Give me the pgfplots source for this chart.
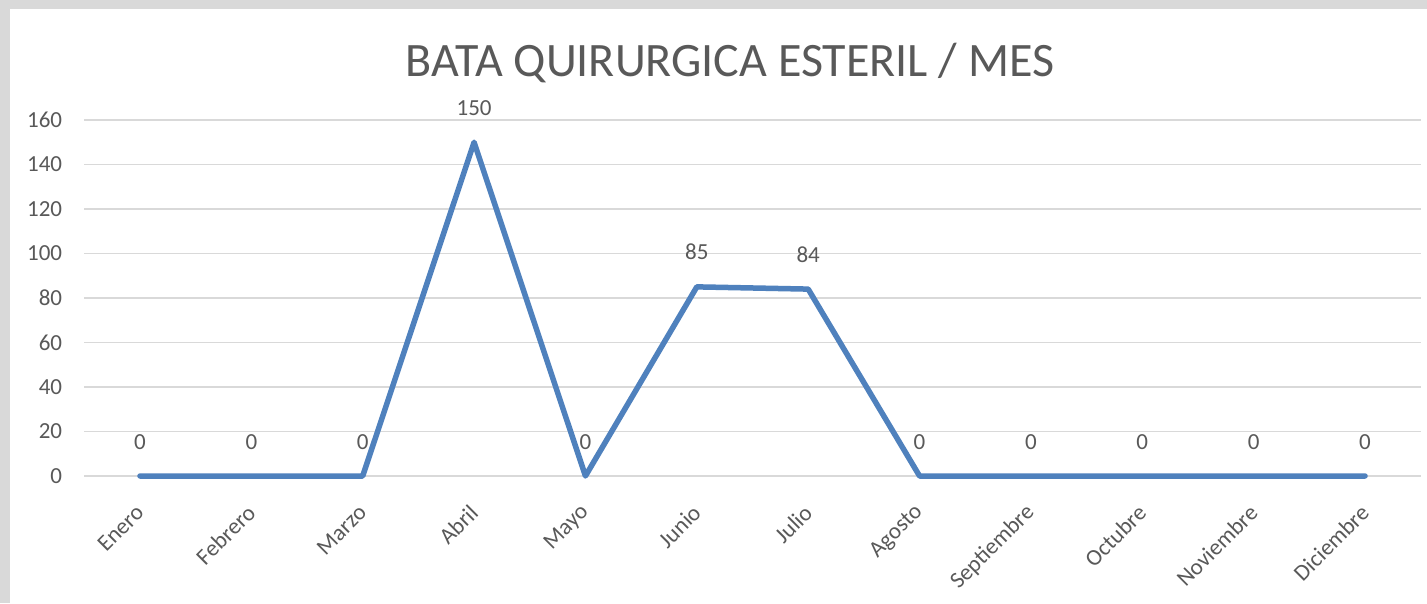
\documentclass[border=0pt]{standalone}
\usepackage{pgfplots}
\pgfplotsset{compat=1.18}
\usepackage{fontspec}
\setmainfont{Carlito}
\definecolor{framegray}{HTML}{D9D9D9}
\definecolor{txt}{HTML}{595959}
\definecolor{serie}{HTML}{4F81BD}
\definecolor{gridc}{HTML}{D9D9D9}
\begin{document}
\begin{tikzpicture}[x=1pt,y=1pt]
\useasboundingbox (0,0) rectangle (1427,603);
\fill[framegray] (0,0) rectangle (1427,603);
\fill[white] (10,0) rectangle (1427,594);
\node[font=\fontsize{48}{50}\selectfont, text=txt, anchor=base, inner sep=0] at (730,526) {BATA QUIRURGICA ESTERIL / MES};
\begin{axis}[
  at={(84.3pt,127pt)}, anchor=south west,
  scale only axis, width=1336.4pt, height=356pt,
  xmin=-0.5, xmax=11.5, ymin=0, ymax=160,
  clip=false,
  axis line style={draw=none},
  major tick length=0pt,
  ytick={0,20,...,160},
  xtick={0,...,11},
  xticklabels={Enero,Febrero,Marzo,Abril,Mayo,Junio,Julio,Agosto,Septiembre,Octubre,Noviembre,Diciembre},
  ymajorgrids,
  grid style={gridc, line width=1.5pt},
  tick label style={font=\fontsize{23}{25}\selectfont, text=txt, inner sep=0pt},
  /pgf/number format/assume math mode=true,
  xticklabel style={rotate=45, anchor=east},
  xticklabel shift=33pt,
  yticklabel style={anchor=east},
  yticklabel shift=22pt,
  nodes near coords,
  every node near coord/.append style={font=\fontsize{23}{25}\selectfont, text=txt, anchor=south, inner sep=0pt, yshift=24pt},
]
\addplot[serie, line width=5.5pt, line cap=round, line join=round, mark=none] coordinates {
(0,0) (1,0) (2,0) (3,150) (4,0) (5,85) (6,84) (7,0) (8,0) (9,0) (10,0) (11,0)
};
\end{axis}
\end{tikzpicture}
\end{document}
